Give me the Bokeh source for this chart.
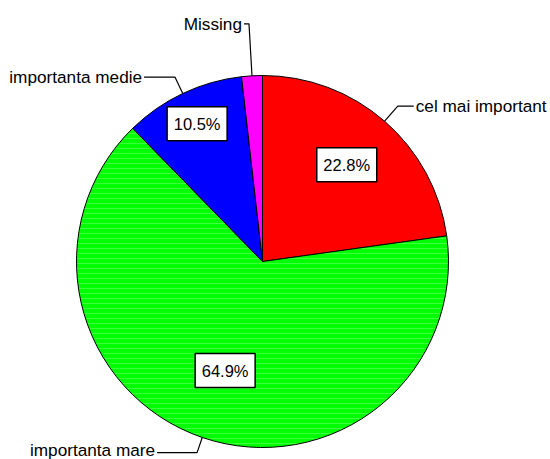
import math
from bokeh.plotting import figure
from bokeh.models import Range1d
from bokeh.core.properties import value
from bokeh.embed import file_html
from bokeh.resources import INLINE

# ---- data ----
categories = ["cel mai important", "importanta mare", "importanta medie", "Missing"]
percents = [22.8, 64.9, 10.5, 1.8]
pct_labels = ["22.8%", "64.9%", "10.5%", ""]
colors = ["#FF0000", "#00FF00", "#0000FF", "#FF00FF"]
hatches = [" ", "horizontal_line", " ", " "]
hatch_colors = ["#FF5555", "#66FF66", "#5555FF", "#FF66FF"]

# ---- layout (pixel units, pie centre at origin) ----
R = 186
box_frac = [0.69, 0.62, 0.82, None]
lead_len = [20, 16, 18, 52]
horiz_len = [16, 40, 31, 5]
text_dy = [0, 3, 0, 0]
FONT = value("Liberation Sans")

p = figure(width=550, height=459, output_backend="svg", toolbar_location=None,
           x_range=Range1d(-262, 288), y_range=Range1d(-198, 261),
           min_border=0, background_fill_color="white", border_fill_color="white")
p.axis.visible = False
p.grid.visible = False
p.outline_line_color = None

total = sum(percents)
cum = 0.0
starts, ends, mids = [], [], []
for v in percents:
    a0 = math.pi / 2 - 2 * math.pi * cum / total
    cum += v
    a1 = math.pi / 2 - 2 * math.pi * cum / total
    starts.append(a0)
    ends.append(a1)
    mids.append((a0 + a1) / 2)

p.wedge(x=0, y=0, radius=R, start_angle=starts, end_angle=ends, direction="clock",
        fill_color=colors, line_color="black", line_width=1,
        hatch_pattern=hatches, hatch_color=hatch_colors, hatch_alpha=0.6,
        hatch_scale=5, hatch_weight=1)

# leader lines and labels
xs, ys = [], []
for i, cat in enumerate(categories):
    m = mids[i]
    ex, ey = R * math.cos(m), R * math.sin(m)
    bx, by = (R + lead_len[i]) * math.cos(m), (R + lead_len[i]) * math.sin(m)
    if i == 3:
        bx = ex - 3
    side = 1 if math.cos(m) > 0 else -1
    hx = bx + side * horiz_len[i]
    xs.append([ex, bx, hx])
    ys.append([ey, by, by])
    p.text(x=[hx + side * 2], y=[by + text_dy[i]], text=[cat],
           text_align="left" if side > 0 else "right", text_baseline="middle",
           text_font=FONT, text_font_size="17.2px", text_color="black")
p.multi_line(xs=xs, ys=ys, line_color="black", line_width=1.2)

# percentage boxes
bxs, bys, btx = [], [], []
for i, lab in enumerate(pct_labels):
    if not lab:
        continue
    m = mids[i]
    bxs.append(box_frac[i] * R * math.cos(m))
    bys.append(box_frac[i] * R * math.sin(m))
    btx.append(lab)
p.rect(x=bxs, y=bys, width=60, height=34, fill_color="white", line_color="black", line_width=1.5)
p.text(x=bxs, y=bys, text=btx, text_align="center", text_baseline="middle",
       text_font=FONT, text_font_size="16.5px", text_color="black")

open("out.html", "w").write(file_html(p, INLINE))
